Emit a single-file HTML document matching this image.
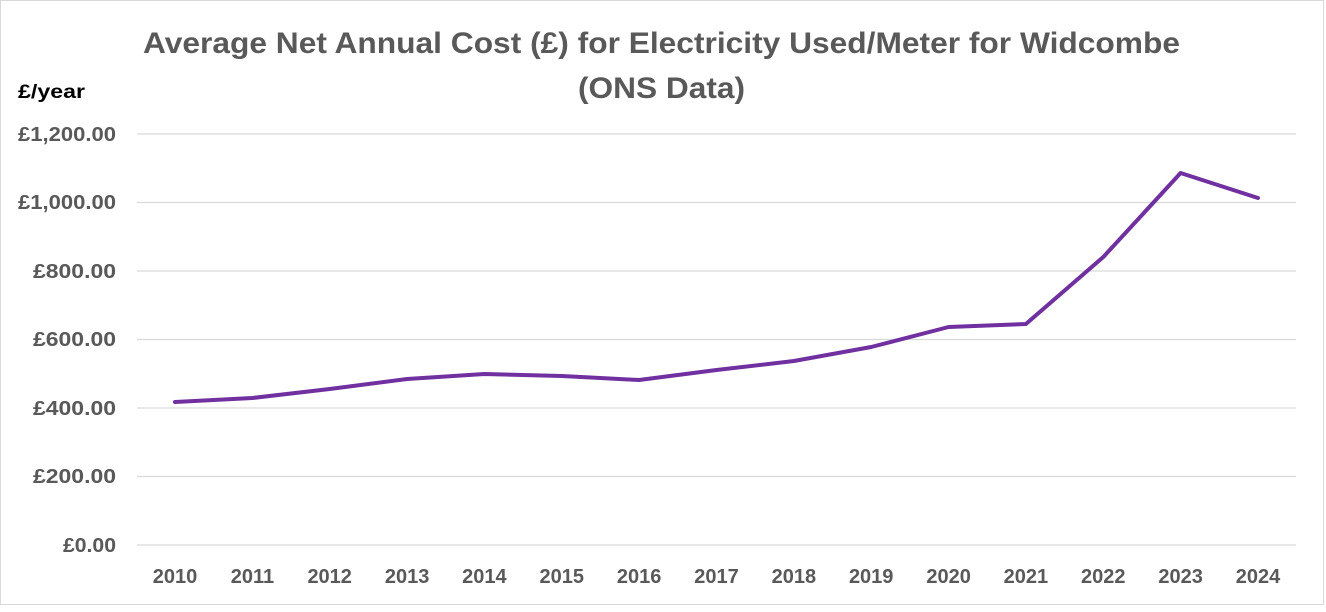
<!DOCTYPE html>
<html><head><meta charset="utf-8"><style>
body{margin:0;background:#fff}
svg text{font-family:"Liberation Sans",sans-serif;font-weight:bold;fill:#595959}
</style></head><body>
<svg width="1326" height="607" xmlns="http://www.w3.org/2000/svg">
<rect x="0.5" y="0.5" width="1323" height="604" fill="#fff" stroke="#d9d9d9"/>
<text x="143" y="53" font-size="30" textLength="1037" lengthAdjust="spacingAndGlyphs">Average Net Annual Cost (£) for Electricity Used/Meter for Widcombe</text>
<text x="578" y="98" font-size="30" textLength="167" lengthAdjust="spacingAndGlyphs">(ONS Data)</text>
<text x="18" y="98" font-size="19" textLength="67" lengthAdjust="spacingAndGlyphs" style="fill:#000">£/year</text>
<g stroke="#d9d9d9" stroke-width="1.3">
<line x1="137" x2="1296" y1="134" y2="134"/>
<line x1="137" x2="1296" y1="202.5" y2="202.5"/>
<line x1="137" x2="1296" y1="271" y2="271"/>
<line x1="137" x2="1296" y1="339.5" y2="339.5"/>
<line x1="137" x2="1296" y1="408" y2="408"/>
<line x1="137" x2="1296" y1="476.5" y2="476.5"/>
<line x1="137" x2="1296" y1="545" y2="545"/>
</g>
<g font-size="20" text-anchor="end">
<text x="116" y="141" textLength="98" lengthAdjust="spacingAndGlyphs">£1,200.00</text>
<text x="116" y="209" textLength="98" lengthAdjust="spacingAndGlyphs">£1,000.00</text>
<text x="116" y="278" textLength="83" lengthAdjust="spacingAndGlyphs">£800.00</text>
<text x="116" y="346" textLength="83" lengthAdjust="spacingAndGlyphs">£600.00</text>
<text x="116" y="415" textLength="83" lengthAdjust="spacingAndGlyphs">£400.00</text>
<text x="116" y="483" textLength="83" lengthAdjust="spacingAndGlyphs">£200.00</text>
<text x="116" y="552" textLength="53" lengthAdjust="spacingAndGlyphs">£0.00</text>
</g>
<g font-size="20" text-anchor="middle">
<text x="175" y="583">2010</text><text x="252.4" y="583">2011</text><text x="329.7" y="583">2012</text><text x="407.1" y="583">2013</text><text x="484.4" y="583">2014</text><text x="561.8" y="583">2015</text><text x="639.1" y="583">2016</text><text x="716.5" y="583">2017</text><text x="793.9" y="583">2018</text><text x="871.2" y="583">2019</text><text x="948.6" y="583">2020</text><text x="1025.9" y="583">2021</text><text x="1103.3" y="583">2022</text><text x="1180.6" y="583">2023</text><text x="1258" y="583">2024</text>
</g>
<polyline fill="none" stroke="#7030a0" stroke-width="4" stroke-linejoin="round" stroke-linecap="round"
points="175,402 252.4,398 329.7,389 407.1,379 484.4,374 561.8,376 639.1,380 716.5,370 793.9,361 871.2,347 948.6,327 1025.9,324 1103.3,257 1180.6,173 1258,198"/>
</svg>
</body></html>
